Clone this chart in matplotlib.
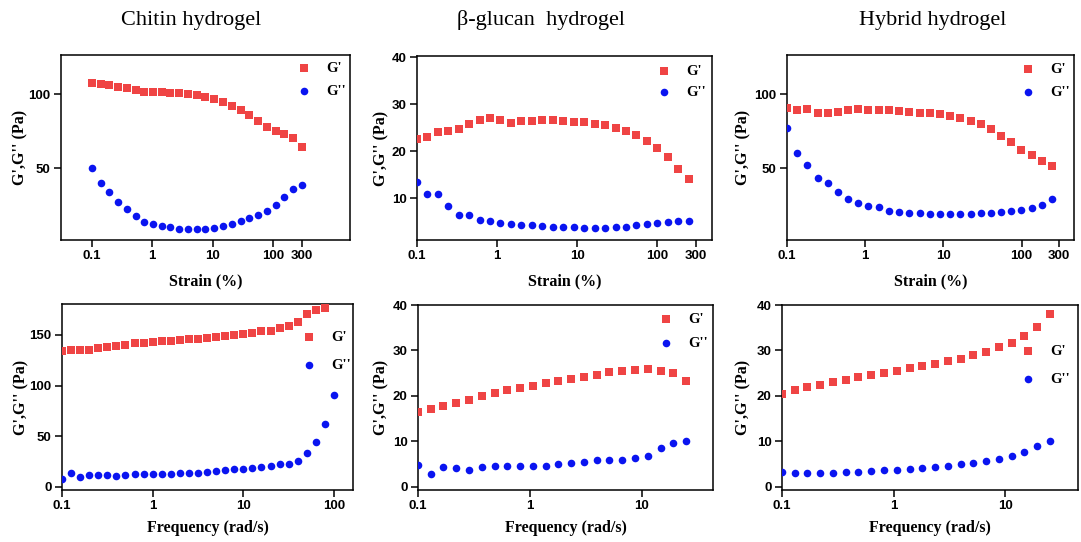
import numpy as np
import matplotlib
matplotlib.use("Agg")
import matplotlib.pyplot as plt
from matplotlib.ticker import FixedLocator, FixedFormatter, NullLocator

# ---------------------------------------------------------------
# Data
# ---------------------------------------------------------------
# strain sweeps (%)
strain_chitin = [0.1, 0.14, 0.195, 0.272, 0.38, 0.53, 0.74, 1.03, 1.44, 2.0,
                 2.8, 3.9, 5.5, 7.6, 10.6, 14.8, 20.7, 28.9, 40.3, 56.3,
                 78.6, 110, 153, 214, 300]
gp_strain_chitin = [107.7, 106.8, 106.1, 105.2, 104.1, 103.0, 101.8, 101.4, 101.4, 100.7,
                    100.7, 100.2, 99.5, 98.0, 96.6, 94.8, 92.1, 89.4, 86.0, 82.1,
                    78.1, 75.1, 73.1, 70.1, 64.0]
gpp_strain_chitin = [50.0, 40.0, 33.5, 27.1, 22.2, 17.2, 13.6, 12.2, 10.9, 10.0,
                     9.0, 9.0, 9.0, 9.0, 9.5, 10.6, 12.2, 13.8, 15.8, 18.3,
                     21.0, 24.7, 30.5, 36.0, 38.5]

strain_other = [0.1, 0.135, 0.182, 0.246, 0.332, 0.448, 0.605, 0.817, 1.10, 1.49,
                2.01, 2.71, 3.66, 4.95, 6.69, 9.03, 12.2, 16.4, 22.2, 30.0,
                40.4, 54.6, 73.7, 99.5, 134, 181, 245]
gp_strain_glucan = [22.7, 23.1, 24.1, 24.3, 24.7, 25.8, 26.7, 27.0, 26.7, 26.1,
                    26.5, 26.5, 26.6, 26.6, 26.4, 26.3, 26.2, 25.9, 25.6, 25.0,
                    24.4, 23.5, 22.2, 20.7, 18.7, 16.3, 14.2]
gpp_strain_glucan = [13.5, 10.8, 10.8, 8.4, 6.4, 6.4, 5.4, 5.1, 4.8, 4.6,
                     4.4, 4.2, 4.0, 3.9, 3.8, 3.8, 3.7, 3.7, 3.7, 3.8,
                     3.9, 4.2, 4.5, 4.7, 4.9, 5.1, 5.2]
gp_strain_hybrid = [90.5, 89.6, 89.8, 87.6, 87.1, 88.2, 89.1, 89.8, 89.6, 89.4,
                    89.4, 88.7, 88.2, 87.6, 87.3, 86.7, 85.3, 84.0, 82.1, 79.6,
                    76.2, 71.9, 67.6, 62.4, 58.6, 54.8, 51.4]
gpp_strain_hybrid = [77.4, 60.2, 51.8, 43.4, 40.0, 33.5, 29.2, 26.5, 24.4, 23.3,
                     21.0, 20.1, 19.5, 19.2, 18.8, 18.6, 18.6, 18.8, 18.8, 19.2,
                     19.7, 20.4, 20.8, 21.5, 22.6, 24.9, 29.0]

# frequency sweeps (rad/s)
freq_chitin = [0.1, 0.126, 0.158, 0.2, 0.251, 0.316, 0.398, 0.501, 0.631, 0.794,
               1.0, 1.26, 1.58, 2.0, 2.51, 3.16, 3.98, 5.01, 6.31, 7.94,
               10.0, 12.6, 15.8, 20.0, 25.1, 31.6, 39.8, 50.1, 63.1, 79.4, 100]
gp_freq_chitin = [134.5, 134.9, 135.2, 135.2, 137.2, 138.5, 138.8, 140.5, 141.8, 142.5,
                  143.1, 143.8, 144.4, 145.1, 145.8, 146.4, 147.1, 148.1, 149.0, 150.0,
                  151.4, 152.4, 153.7, 154.3, 157.0, 159.3, 162.9, 170.5, 174.7, 176.4]
gpp_freq_chitin = [7.6, 13.8, 9.9, 11.9, 11.9, 11.9, 10.9, 11.5, 12.2, 12.2,
                   12.5, 12.9, 12.9, 13.5, 13.8, 13.8, 14.5, 15.2, 16.2, 17.1,
                   17.8, 18.8, 19.8, 20.4, 22.8, 22.8, 25.1, 33.0, 43.9, 61.7, 90.7]

freq_other = [0.1, 0.13, 0.169, 0.22, 0.286, 0.372, 0.484, 0.63, 0.819, 1.07,
              1.39, 1.80, 2.35, 3.05, 3.97, 5.16, 6.71, 8.73, 11.4, 14.8,
              19.2, 25.0]
gp_freq_glucan = [16.4, 17.1, 17.8, 18.4, 19.2, 19.9, 20.6, 21.3, 21.7, 22.2,
                  22.8, 23.3, 23.8, 24.2, 24.7, 25.2, 25.4, 25.7, 26.0, 25.5,
                  25.0, 23.3]
gpp_freq_glucan = [4.9, 2.8, 4.4, 4.1, 3.8, 4.3, 4.6, 4.5, 4.5, 4.6,
                   4.6, 5.0, 5.3, 5.5, 5.9, 6.0, 6.0, 6.4, 6.8, 8.6,
                   9.6, 10.1]
gp_freq_hybrid = [20.4, 21.4, 22.0, 22.5, 23.1, 23.6, 24.1, 24.5, 25.0, 25.5,
                  26.1, 26.5, 27.1, 27.7, 28.2, 28.9, 29.7, 30.7, 31.7, 33.2,
                  35.2, 38.0]
gpp_freq_hybrid = [3.2, 3.0, 3.0, 3.0, 3.0, 3.2, 3.2, 3.4, 3.6, 3.7,
                   3.9, 4.2, 4.3, 4.6, 5.0, 5.3, 5.7, 6.2, 6.8, 7.7,
                   9.0, 10.1]

titles = ["Chitin hydrogel", "\u03b2-glucan  hydrogel", "Hybrid hydrogel"]
strain_ticks = [0.1, 1, 10, 100, 300]
strain_ticklabels = ["0.1", "1", "10", "100", "300"]
freq_ticks_chitin = [0.1, 1, 10, 100]
freq_ticks_other = [0.1, 1, 10]

# ---------------------------------------------------------------
# Layout (pixel coordinates of the 1081x542 reference)
# ---------------------------------------------------------------
W, H = 1081, 542
RED = "#EF4444"
BLUE = "#0A14F0"
SERIF = "Liberation Serif"
SANS = "Liberation Sans"


def fx(px):
    return px / W


def fy(py):
    return 1 - py / H


panels = [
    # frame (left, top, right, bottom) in px, limits, ticks, label anchors, legend (x, y1, y2)
    dict(frame=(61, 55, 350, 240), xlim=(0.0311, 1862), ylim=(1.2, 126.7),
         yticks=[50, 100], x=strain_chitin, gp=gp_strain_chitin, gpp=gpp_strain_chitin,
         xticks=strain_ticks, xticklabels=strain_ticklabels, xlabel="Strain (%)",
         ylab_x=20, xlab_y=281, leg=(304, 67, 93)),
    dict(frame=(417, 56, 712, 240), xlim=(0.1, 479), ylim=(1.1, 40.3),
         yticks=[10, 20, 30, 40], x=strain_other, gp=gp_strain_glucan, gpp=gpp_strain_glucan,
         xticks=strain_ticks, xticklabels=strain_ticklabels, xlabel="Strain (%)",
         ylab_x=381, xlab_y=281, leg=(664, 70, 94)),
    dict(frame=(787, 55, 1074, 240), xlim=(0.1, 467), ylim=(1.2, 126.7),
         yticks=[50, 100], x=strain_other, gp=gp_strain_hybrid, gpp=gpp_strain_hybrid,
         xticks=strain_ticks, xticklabels=strain_ticklabels, xlabel="Strain (%)",
         ylab_x=743, xlab_y=281, leg=(1028, 68, 94)),
    dict(frame=(62, 304, 353, 490), xlim=(0.1, 162), ylim=(-3.3, 180.6),
         yticks=[0, 50, 100, 150], x=freq_chitin, gp=gp_freq_chitin, gpp=gpp_freq_chitin,
         xticks=freq_ticks_chitin, xticklabels=["0.1", "1", "10", "100"],
         xlabel="Frequency (rad/s)", ylab_x=21, xlab_y=528, leg=(309, 336, 367)),
    dict(frame=(418, 305, 713, 490), xlim=(0.1, 43.6), ylim=(-0.7, 40),
         yticks=[0, 10, 20, 30, 40], x=freq_other, gp=gp_freq_glucan, gpp=gpp_freq_glucan,
         xticks=freq_ticks_other, xticklabels=["0.1", "1", "10"],
         xlabel="Frequency (rad/s)", ylab_x=381, xlab_y=528, leg=(666, 318, 345)),
    dict(frame=(782, 305, 1078, 490), xlim=(0.1, 44.7), ylim=(-0.7, 40),
         yticks=[0, 10, 20, 30, 40], x=freq_other, gp=gp_freq_hybrid, gpp=gpp_freq_hybrid,
         xticks=freq_ticks_other, xticklabels=["0.1", "1", "10"],
         xlabel="Frequency (rad/s)", ylab_x=743, xlab_y=528, leg=(1028, 350, 381)),
]

fig = plt.figure(figsize=(W / 100, H / 100), dpi=100)

LEG_FS = 10.5
for p in panels:
    l, t, r, b = p["frame"]
    ax = fig.add_axes([fx(l), fy(b), (r - l) / W, (b - t) / H])
    ax.set_xscale("log")
    ax.scatter(p["x"][:len(p["gp"])], p["gp"], marker="s", s=26, color=RED,
               linewidths=0, label="G'", zorder=3)
    ax.scatter(p["x"][:len(p["gpp"])], p["gpp"], marker="o", s=30, color=BLUE,
               linewidths=0, label="G''", zorder=3)
    ax.set_xlim(*p["xlim"])
    ax.set_ylim(*p["ylim"])

    ax.xaxis.set_major_locator(FixedLocator(p["xticks"]))
    ax.xaxis.set_major_formatter(FixedFormatter(p["xticklabels"]))
    ax.xaxis.set_minor_locator(NullLocator())
    ax.set_yticks(p["yticks"])
    ax.tick_params(direction="out", length=5, width=1.1, labelsize=9.5, pad=2.5)
    for lab in ax.get_xticklabels() + ax.get_yticklabels():
        lab.set_fontweight("bold")
        lab.set_family(SANS)
    for sp in ax.spines.values():
        sp.set_linewidth(1.1)

    ax.set_xlabel(p["xlabel"], fontsize=11.5, fontweight="bold", family=SERIF)
    ax.xaxis.set_label_coords(fx((l + r) / 2), fy(p["xlab_y"]), transform=fig.transFigure)
    ax.xaxis.label.set_va("center")
    ax.set_ylabel("G',G'' (Pa)", fontsize=11.5, fontweight="bold", family=SERIF)
    ax.yaxis.set_label_coords(fx(p["ylab_x"]), fy((t + b) / 2), transform=fig.transFigure)
    ax.yaxis.label.set_va("center")

    mx, y1, y2 = p["leg"]
    fs_px = LEG_FS * 100 / 72
    row_h = fs_px * 1.1
    spacing = (y2 - y1 - row_h) / fs_px
    ax.legend(loc="center left", bbox_to_anchor=(fx(mx - fs_px / 2), fy((y1 + y2) / 2)),
              bbox_transform=fig.transFigure, frameon=False, borderpad=0,
              borderaxespad=0, handlelength=1.0, handletextpad=1.0,
              labelspacing=spacing, prop=dict(family=SERIF, weight="bold", size=LEG_FS))

for cx, title in zip([191, 541, 933], titles):
    fig.text(fx(cx), fy(20), title, ha="center", va="center", fontsize=16, family=SERIF)

fig.savefig("out.png", dpi=100)
